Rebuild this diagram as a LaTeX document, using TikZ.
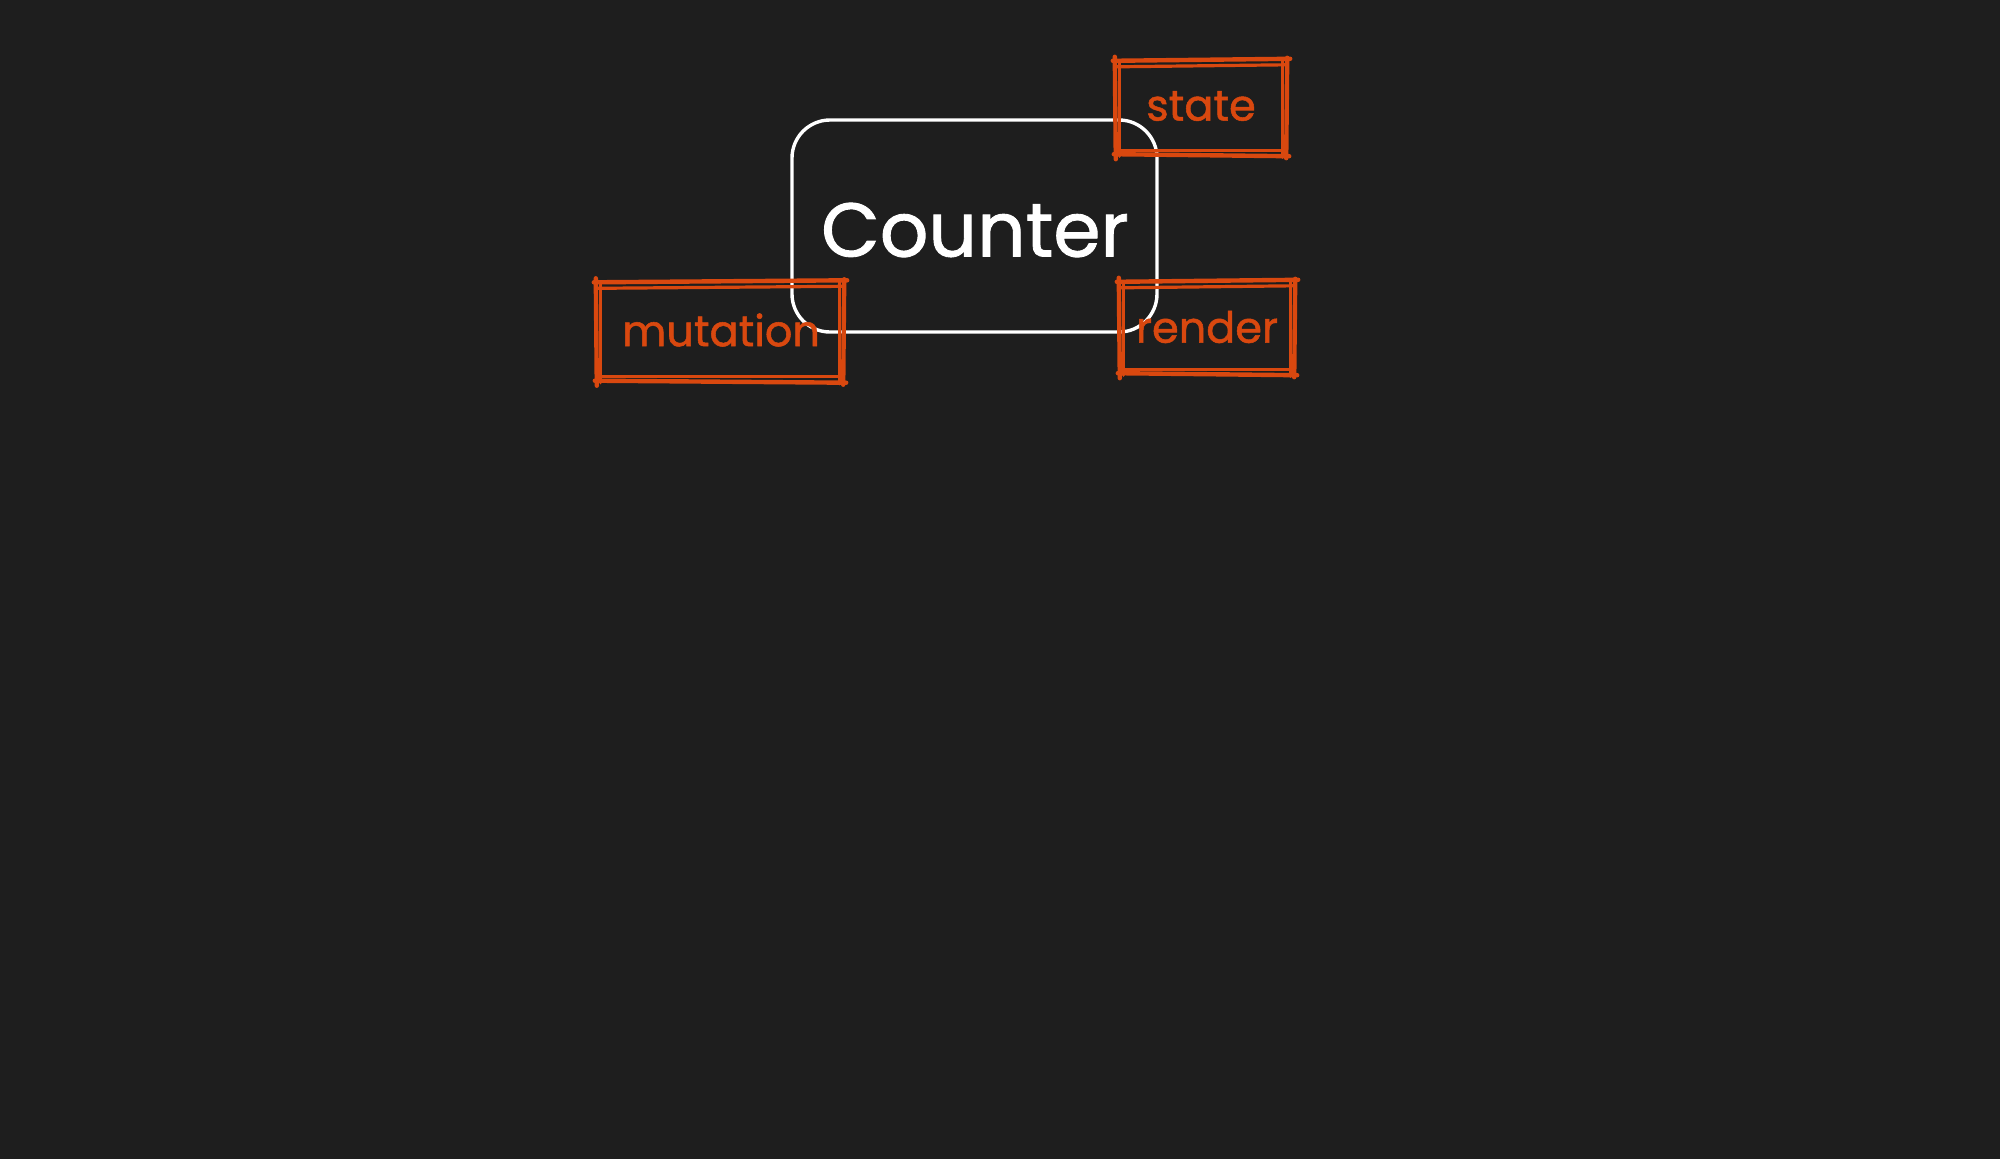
\documentclass[tikz,border=0pt]{standalone}
\usepackage{fontspec}
\setmainfont{Poppins}
\newfontfamily\sketchfont{Poppins}[FakeBold=1.2]
\definecolor{bg}{HTML}{1E1E1E}
\definecolor{exor}{HTML}{D9480F}
\tikzset{
  sk/.style={draw=exor, line width=4.4pt, line cap=round},
  skt/.style={sk, line width=3.2pt},
  lbl/.style={text=exor, font=\sketchfont\fontsize{43}{46}\selectfont},
  obox/.style={rectangle, draw=none, inner sep=0pt},
  mainbox/.style={rectangle, draw=white, line width=3.4pt, rounded corners=38pt, inner sep=0pt},
}
\newcommand\sketchrect[1]{%
  \draw[sk] ([shift={(-6,-3)}]#1.north west) -- ([shift={(7,-5)}]#1.north east);
  \draw[skt] ([shift={(-2,3)}]#1.north west) -- ([shift={(3,1)}]#1.north east);
  \draw[sk] ([shift={(4,-6)}]#1.north east) -- ([shift={(3,6)}]#1.south east);
  \draw[skt] ([shift={(-1,-4)}]#1.north east) -- ([shift={(-1,5)}]#1.south east);
  \draw[sk] ([shift={(-5,2)}]#1.south west) -- ([shift={(6,4)}]#1.south east);
  \draw[skt] ([shift={(-2,-2)}]#1.south west) -- ([shift={(3,-2)}]#1.south east);
  \draw[sk] ([shift={(-4,-7)}]#1.north west) -- ([shift={(-3,7)}]#1.south west);
  \draw[skt] ([shift={(1,-3)}]#1.north west) -- ([shift={(1,4)}]#1.south west);
}
\begin{document}
\begin{tikzpicture}[x=1pt,y=-1pt]
\fill[bg] (0,0) rectangle (2000,1159);
\useasboundingbox (0,0) rectangle (2000,1159);
\node[mainbox, minimum width=365pt, minimum height=212pt] (counter) at (974.5,226) {};
\node[text=white, font=\sketchfont\fontsize{76}{80}\selectfont] (countertext) at (975,230) {Counter};
\node[obox, minimum width=164pt, minimum height=88pt] (state) at (1201,108) {};
\node[lbl] (statetext) at (1201,106) {state};
\node[obox, minimum width=240pt, minimum height=93pt] (mutation) at (720,332) {};
\node[lbl] (mutationtext) at (721,330) {mutation};
\node[obox, minimum width=168pt, minimum height=86pt] (render) at (1207,328) {};
\node[lbl] (rendertext) at (1207,327) {render};
\sketchrect{state}
\sketchrect{mutation}
\sketchrect{render}
\end{tikzpicture}
\end{document}
